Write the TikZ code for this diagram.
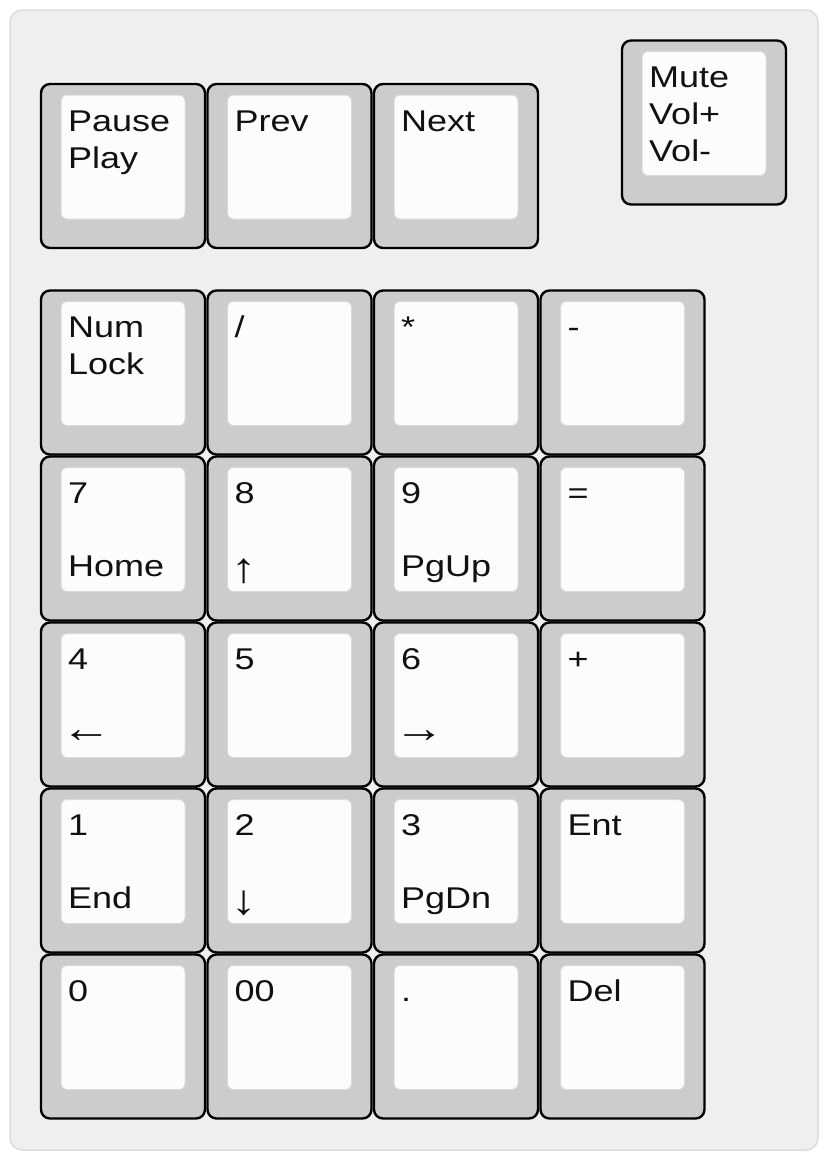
\documentclass[tikz,border=0pt]{standalone}
\usepackage{fontspec}
\setmainfont{Liberation Sans}[FakeStretch=1.2]
\usepackage{xcolor}
\usepackage{graphicx}
\usepackage{tikz}
\usetikzlibrary{positioning}
\definecolor{casebg}{HTML}{EFEFEF}
\definecolor{caseline}{HTML}{DCDCDC}
\definecolor{capgray}{HTML}{CCCCCC}
\definecolor{topwhite}{HTML}{FCFCFC}
\definecolor{topline}{HTML}{DADADA}
\definecolor{legendink}{HTML}{111111}
\tikzset{
  case/.style={draw=caseline, line width=1.5pt, fill=casebg, rounded corners=12pt,
    minimum width=808pt, minimum height=1140pt, inner sep=0pt},
  keycap/.style={draw=black, line width=2.4pt, fill=capgray, rounded corners=9pt,
    minimum size=164pt, inner sep=0pt},
  keytop/.style={draw=topline, line width=1pt, fill=topwhite, rounded corners=6pt,
    minimum size=124pt, inner sep=0pt},
  legend/.style={inner sep=0pt, align=left, text=legendink,
    font=\fontsize{30}{37}\selectfont}
}
% one key: name, centre, top legend, bottom legend
\newcommand{\keycap}[4]{%
  \node[keycap] (#1) at (#2) {};
  \node[keytop] (#1top) at ([yshift=9pt]#1.center) {};
  \node[legend, anchor=north west] (#1a) at ([xshift=-55pt, yshift=60.9pt]#1.center) {\strut #3};
  \node[legend, anchor=base west] (#1b) at ([xshift=-55pt, yshift=-38pt]#1.center) {#4};
}
\newcommand{\uparr}{\hspace*{-3pt}\raisebox{-6pt}{\scalebox{1.4}{↑}}}
\newcommand{\downarr}{\hspace*{-3pt}\raisebox{-6pt}{\scalebox{1.4}{↓}}}
\newcommand{\leftarr}{\hspace*{-7pt}\scalebox{1.4}{←}}
\newcommand{\rightarr}{\hspace*{-7pt}\scalebox{1.4}{→}}

\begin{document}
\begin{tikzpicture}[x=1pt, y=-1pt]
\useasboundingbox (0,0) rectangle (828,1160);
\node[case] (case) at (414,580) {};

% media keys
\keycap{pause}{123,166}{Pause\\Play}{}
\keycap{prev}{289.5,166}{Prev}{}
\keycap{next}{456,166}{Next}{}
\keycap{mute}{704,122.5}{Mute\\Vol+\\Vol-}{}

% numpad, row 1
\keycap{numlock}{123,372.5}{Num\\Lock}{}
\keycap{slash}{289.5,372.5}{/}{}
\keycap{star}{456,372.5}{*}{}
\keycap{minus}{622.5,372.5}{-}{}

% row 2
\keycap{seven}{123,538.5}{7}{Home}
\keycap{eight}{289.5,538.5}{8}{\uparr}
\keycap{nine}{456,538.5}{9}{PgUp}
\keycap{equal}{622.5,538.5}{=}{}

% row 3
\keycap{four}{123,704.5}{4}{\leftarr}
\keycap{five}{289.5,704.5}{5}{}
\keycap{six}{456,704.5}{6}{\rightarr}
\keycap{plus}{622.5,704.5}{+}{}

% row 4
\keycap{one}{123,870.5}{1}{End}
\keycap{two}{289.5,870.5}{2}{\downarr}
\keycap{three}{456,870.5}{3}{PgDn}
\keycap{enter}{622.5,870.5}{Ent}{}

% row 5
\keycap{zero}{123,1036.5}{0}{}
\keycap{dzero}{289.5,1036.5}{00}{}
\keycap{dot}{456,1036.5}{.}{}
\keycap{del}{622.5,1036.5}{Del}{}
\end{tikzpicture}
\end{document}
